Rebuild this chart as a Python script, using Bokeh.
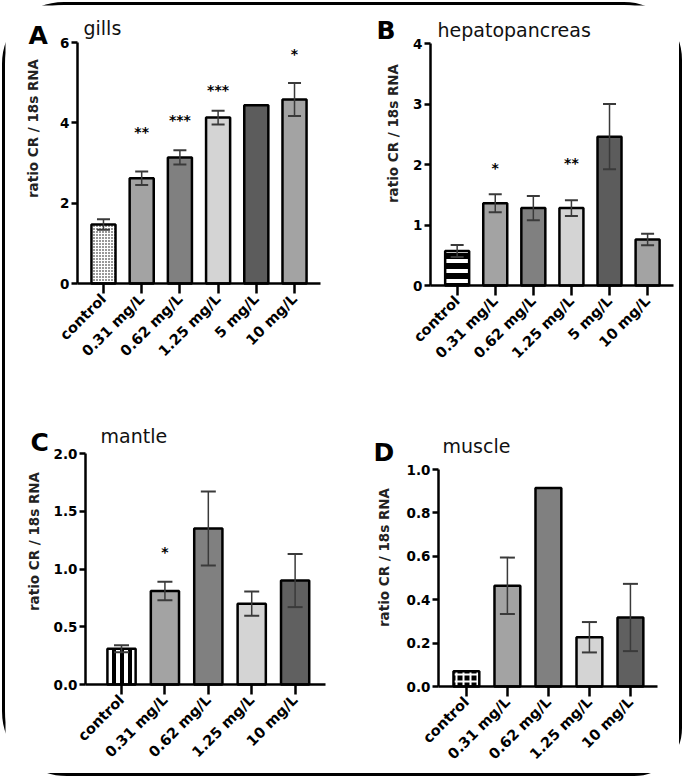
import math
from bokeh.plotting import figure
from bokeh.models import (ColumnDataSource, Whisker, TeeHead, FixedTicker, Label,
                          Range1d, NumeralTickFormatter)
from bokeh.layouts import column, row
from bokeh.core.properties import value
from bokeh.embed import file_html
from bokeh.resources import INLINE

# ---------------- data ----------------
cats6 = ["control", "0.31 mg/L", "0.62 mg/L", "1.25 mg/L", "5 mg/L", "10 mg/L"]
cats5 = ["control", "0.31 mg/L", "0.62 mg/L", "1.25 mg/L", "10 mg/L"]

gills_mean = [1.47, 2.62, 3.14, 4.13, 4.44, 4.58]
gills_sem = [0.13, 0.17, 0.18, 0.17, 0.0, 0.41]
gills_sig = ["", "**", "***", "***", "", "*"]
gills_sig_y = [0, 3.76, 4.08, 4.82, 0, 5.72]

hep_mean = [0.57, 1.36, 1.28, 1.28, 2.46, 0.76]
hep_sem = [0.10, 0.15, 0.20, 0.13, 0.54, 0.095]
hep_sig = ["", "*", "", "**", "", ""]
hep_sig_y = [0, 1.94, 0, 2.03, 0, 0]

mantle_mean = [0.31, 0.81, 1.35, 0.70, 0.90]
mantle_sem = [0.03, 0.08, 0.32, 0.105, 0.23]
mantle_sig = ["", "*", "", "", ""]
mantle_sig_y = [0, 1.15, 0, 0, 0]

muscle_mean = [0.07, 0.464, 0.915, 0.227, 0.318]
muscle_sem = [0.0, 0.13, 0.0, 0.07, 0.155]
muscle_sig = ["", "", "", "", ""]
muscle_sig_y = [0, 0, 0, 0, 0]

ticks_A = [0, 2, 4, 6]
ticks_B = [0, 1, 2, 3, 4]
ticks_C = [0.0, 0.5, 1.0, 1.5, 2.0]
ticks_D = [0.0, 0.2, 0.4, 0.6, 0.8, 1.0]

colors_A = ["white", "#a3a3a3", "#808080", "#d4d4d4", "#5c5c5c", "#a3a3a3"]
colors_B = ["black", "#a3a3a3", "#808080", "#d4d4d4", "#5c5c5c", "#a3a3a3"]
colors_C = ["white", "#a3a3a3", "#808080", "#d4d4d4", "#606060"]
colors_D = ["black", "#a3a3a3", "#808080", "#d4d4d4", "#606060"]

y_title = "ratio CR / 18s RNA"
FONT = "DejaVu Sans"


def panel(cats, mean, sem, sig, sig_y, colors, ctrl, ticks, fmt, xspan, bw,
          size, geo, letter, title, letter_px, title_px, ylab_px, cap):
    """geo = (axis_left_px, axis_right_px, top_tick_px, zero_px) in figure pixels."""
    W, H = size
    axl, axr, topp, zerop = geo
    x0, x1 = xspan
    sx = (axr - axl) / (x1 - x0)
    xr = (x0 - axl / sx, x1 + (W - axr) / sx)
    top = ticks[-1]
    sy = (zerop - topp) / top
    yr = (-(H - zerop) / sy, top + topp / sy)

    def to_data(px, py):
        return xr[0] + px / sx, yr[1] - py / sy

    n = len(cats)
    xs = list(range(n))
    p = figure(width=W, height=H, x_range=Range1d(*xr), y_range=Range1d(*yr),
               output_backend="svg", toolbar_location=None,
               min_border_left=0, min_border_right=0, min_border_top=0,
               min_border_bottom=0)
    p.outline_line_color = None
    p.xgrid.visible = False
    p.ygrid.visible = False
    p.background_fill_color = "white"
    p.border_fill_color = "white"

    hatch = [ctrl["pattern"]] + [" "] * (n - 1)
    src = ColumnDataSource(dict(x=xs, top=mean, color=colors, hatch=hatch))
    p.vbar(x="x", top="top", bottom=0, width=bw, source=src,
           fill_color="color", line_color="black", line_width=2.5,
           hatch_pattern="hatch", hatch_color=ctrl["hcolor"],
           hatch_scale=ctrl["scale"], hatch_weight=ctrl["weight"])

    ex = [x for x, s in zip(xs, sem) if s > 0]
    eu = [m + s for m, s in zip(mean, sem) if s > 0]
    el = [m - s for m, s in zip(mean, sem) if s > 0]
    esrc = ColumnDataSource(dict(x=ex, upper=eu, lower=el))
    w = Whisker(base="x", upper="upper", lower="lower", source=esrc,
                level="overlay", line_color="#3a3a3a", line_width=1.5,
                upper_head=TeeHead(size=cap, line_color="#3a3a3a", line_width=2),
                lower_head=TeeHead(size=cap, line_color="#3a3a3a", line_width=2))
    p.add_layout(w)

    sxs = [x for x, s in zip(xs, sig) if s]
    sys_ = [y for y, s in zip(sig_y, sig) if s]
    st = [s for s in sig if s]
    if st:
        ssrc = ColumnDataSource(dict(x=sxs, y=sys_, t=st))
        p.text(x="x", y="y", text="t", source=ssrc, text_align="center",
               text_baseline="middle", text_font=value(FONT),
               text_font_style="bold", text_font_size="14px", text_color="black")

    for ax in (p.xaxis[0], p.yaxis[0]):
        ax.axis_line_width = 2.5
        ax.axis_line_color = "black"
        ax.major_tick_line_width = 2.5
        ax.major_tick_line_color = "black"
        ax.major_tick_in = 0
        ax.minor_tick_line_color = None
        ax.major_label_text_font = FONT
        ax.major_label_text_font_style = "bold"
        ax.major_label_text_color = "black"
    p.xaxis.major_label_text_font_size = "14.5px"
    p.yaxis.major_label_text_font_size = "13.5px"
    p.xaxis.major_tick_out = 10
    p.yaxis.major_tick_out = 6
    p.xaxis.ticker = FixedTicker(ticks=xs)
    p.xaxis.major_label_overrides = {i: c for i, c in enumerate(cats)}
    p.xaxis.major_label_orientation = math.pi / 4
    p.xaxis.major_label_standoff = 3
    p.xaxis.bounds = (x0, x1)
    p.xaxis.fixed_location = 0
    p.yaxis.ticker = FixedTicker(ticks=ticks)
    p.yaxis.formatter = NumeralTickFormatter(format=fmt)
    p.yaxis.major_label_standoff = 2
    p.yaxis.fixed_location = x0
    p.yaxis.bounds = (0, top)

    yx, yy = to_data(*ylab_px)
    p.add_layout(Label(x=yx, y=yy, text=y_title, angle=math.pi / 2,
                       text_font=FONT, text_font_style="bold",
                       text_font_size="13.5px", text_align="center",
                       text_baseline="middle", text_color="#222222"))
    lx, ly = to_data(*letter_px)
    tx, ty = to_data(*title_px)
    p.add_layout(Label(x=lx, y=ly, text=letter, text_font=FONT,
                       text_font_style="bold", text_font_size="25px",
                       text_baseline="alphabetic", text_color="black"))
    p.add_layout(Label(x=tx, y=ty, text=title, text_font=FONT,
                       text_font_style="normal", text_font_size="19px",
                       text_baseline="alphabetic", text_color="#111111"))
    return p


pA = panel(cats6, gills_mean, gills_sem, gills_sig, gills_sig_y, colors_A,
           dict(pattern="dot", hcolor="black", scale=3, weight=2.3),
           ticks_A, "0", (-0.68, 5.68), 0.63, (335, 385), (72, 315, 37, 278),
           "A", "gills", (23, 30), (78, 22), (27, 123), 13)
pB = panel(cats6, hep_mean, hep_sem, hep_sig, hep_sig_y, colors_B,
           dict(pattern="horizontal_line", hcolor="white", scale=10, weight=4),
           ticks_B, "0", (-0.70, 5.68), 0.63, (339, 385), (90, 333, 38, 280),
           "B", "hepatopancreas", (36, 25), (97, 24), (52, 128), 13)
pC = panel(cats5, mantle_mean, mantle_sem, mantle_sig, mantle_sig_y, colors_C,
           dict(pattern="vertical_line", hcolor="black", scale=8, weight=4),
           ticks_C, "0.0", (-0.83, 4.70), 0.65, (335, 383), (80, 320, 63, 294),
           "C", "mantle", (25, 52), (95, 45), (28, 151), 15)
pD = panel(cats5, muscle_mean, muscle_sem, muscle_sig, muscle_sig_y, colors_D,
           dict(pattern="cross", hcolor="white", scale=7, weight=2),
           ticks_D, "0.0", (-0.68, 4.66), 0.63, (339, 383), (98, 317, 79, 296),
           "D", "muscle", (33, 62), (102, 55), (43, 167), 15)

layout = column(row(pA, pB), row(pC, pD),
                styles={"border": "3px solid black", "margin": "2px",
                        "border-radius": "62px 58px 48px 65px",
                        "background": "white"})

open("out.html", "w").write(file_html(layout, INLINE))
